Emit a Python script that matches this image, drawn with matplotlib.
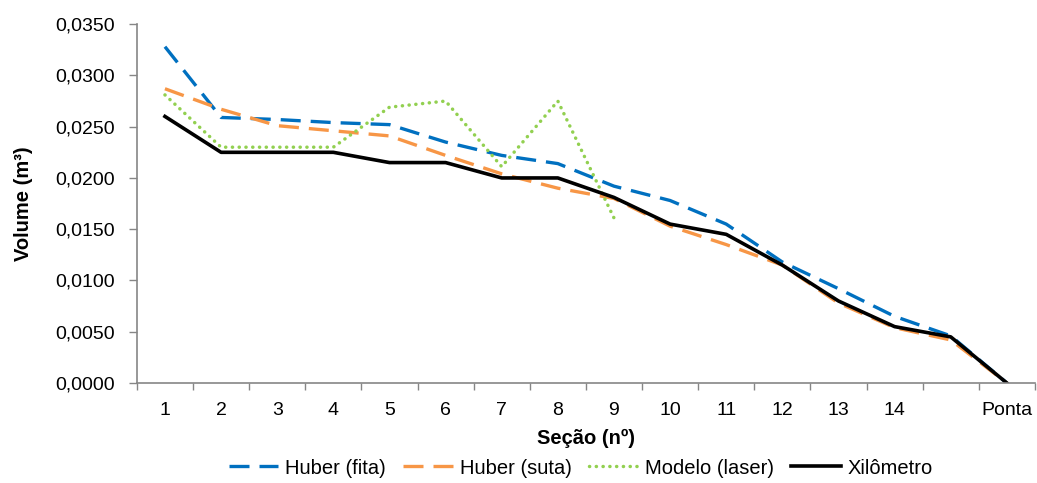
import numpy as np
import matplotlib
matplotlib.use('Agg')
import matplotlib.pyplot as plt
from matplotlib.ticker import FixedLocator, FuncFormatter

plt.rcParams['font.family'] = ['Liberation Sans', 'DejaVu Sans']

# dados
secoes = ['1', '2', '3', '4', '5', '6', '7', '8', '9', '10', '11', '12', '13', '14', '', 'Ponta']
huber_fita = [0.0328, 0.0259, 0.0257, 0.0254, 0.0252, 0.0235, 0.0222, 0.0214, 0.0192, 0.0178,
              0.0155, 0.0118, 0.0092, 0.0065, 0.0046, 0.0]
huber_suta = [0.0287, 0.0267, 0.0251, 0.0246, 0.0241, 0.0222, 0.0204, 0.0190, 0.0180, 0.0153,
              0.0135, 0.0115, 0.0078, 0.0054, 0.0042, 0.0]
modelo_laser = [0.0281, 0.0230, 0.0230, 0.0230, 0.0269, 0.0275, 0.0211, 0.0275, 0.0161,
                np.nan, np.nan, np.nan, np.nan, np.nan, np.nan, np.nan]
xilometro = [0.0260, 0.0225, 0.0225, 0.0225, 0.0215, 0.0215, 0.0200, 0.0200, 0.0181, 0.0155,
             0.0145, 0.0115, 0.0080, 0.0055, 0.0045, 0.0]

x = np.arange(1, len(secoes) + 1)

fig = plt.figure(figsize=(10.37, 4.83), dpi=100)
ax = fig.add_axes([0.132, 0.207, 0.866, 0.743])

ax.plot(x, huber_fita, color='#0070C0', lw=2.4, dashes=(6, 3), label='Huber (fita)')
ax.plot(x, huber_suta, color='#F79646', lw=2.4, dashes=(6, 3), label='Huber (suta)')
ax.plot(x, modelo_laser, color='#92D050', lw=2.5, dashes=(0.05, 1.9), dash_capstyle='round',
        label='Modelo (laser)')
ax.plot(x, xilometro, color='black', lw=2.6, label='Xilômetro')

ax.set_xlim(0.5, len(secoes) + 0.5)
ax.set_ylim(0, 0.035)
ax.set_yticks(np.arange(0, 0.0351, 0.005))
ax.yaxis.set_major_formatter(FuncFormatter(lambda v, p: f'{v:.4f}'.replace('.', ',')))

# marcas nas divisas das categorias, rótulos no centro
ax.xaxis.set_major_locator(FixedLocator(np.arange(0.5, len(secoes) + 1, 1)))
ax.xaxis.set_minor_locator(FixedLocator(x))
ax.set_xticklabels([])
ax.set_xticklabels(secoes, minor=True)
ax.tick_params(axis='x', which='major', length=5, color='#868686', width=1)
ax.tick_params(axis='x', which='minor', length=0, pad=14, labelsize=14)
ax.tick_params(axis='y', length=6, color='#868686', width=1, labelsize=14, pad=10)

for s in ['top', 'right']:
    ax.spines[s].set_visible(False)
for s in ['left', 'bottom']:
    ax.spines[s].set_color('#868686')
    ax.spines[s].set_linewidth(1.2)

ax.set_ylabel('Volume (m³)', fontsize=14.5, fontweight='bold', labelpad=16)
ax.set_xlabel('Seção (nº)', fontsize=14.5, fontweight='bold', labelpad=7)

fig.legend(loc='center', bbox_to_anchor=(581 / 1037, 1 - 468 / 483), ncol=4, frameon=False,
           fontsize=14.5, handlelength=2.45, columnspacing=0.85, handletextpad=0.35)

fig.savefig('out.png', dpi=100)
